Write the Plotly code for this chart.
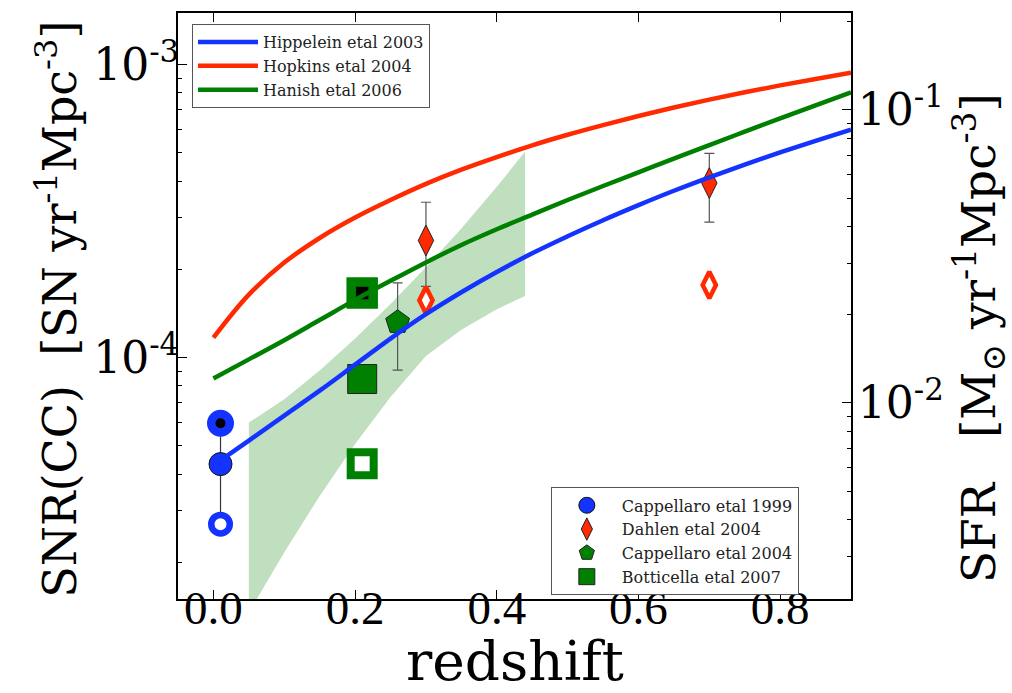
import math
import plotly.graph_objects as go

# ---- model curves: core-collapse SN rate vs redshift ----
z_hippelein = [0.01, 0.05, 0.1, 0.15, 0.2, 0.25, 0.3, 0.35, 0.4, 0.45, 0.5,
               0.55, 0.6, 0.65, 0.7, 0.75, 0.8, 0.85, 0.9]
snr_hippelein = [4.46e-5, 5.21e-5, 6.34e-5, 7.71e-5, 9.46e-5, 1.161e-4, 1.406e-4,
                 1.671e-4, 1.959e-4, 2.270e-4, 2.594e-4, 2.944e-4, 3.315e-4,
                 3.711e-4, 4.125e-4, 4.560e-4, 5.017e-4, 5.495e-4, 5.998e-4]

z_hopkins = [0.0, 0.05, 0.1, 0.15, 0.2, 0.25, 0.3, 0.35, 0.4, 0.45, 0.5,
             0.55, 0.6, 0.65, 0.7, 0.75, 0.8, 0.85, 0.9]
snr_hopkins = [1.169e-4, 1.640e-4, 2.110e-4, 2.560e-4, 3.006e-4, 3.451e-4,
               3.917e-4, 4.380e-4, 4.835e-4, 5.302e-4, 5.761e-4, 6.214e-4, 6.675e-4,
               7.137e-4, 7.593e-4, 8.043e-4, 8.492e-4, 8.933e-4, 9.376e-4]

z_hanish = [0.0, 0.05, 0.1, 0.15, 0.2, 0.25, 0.3, 0.35, 0.4, 0.45, 0.5, 0.55,
            0.6, 0.65, 0.7, 0.75, 0.8, 0.85, 0.9]
snr_hanish = [8.49e-5, 9.86e-5, 1.146e-4, 1.343e-4, 1.574e-4, 1.828e-4, 2.113e-4,
              2.423e-4, 2.742e-4, 3.076e-4, 3.451e-4, 3.851e-4, 4.290e-4, 4.775e-4,
              5.314e-4, 5.902e-4, 6.551e-4, 7.261e-4, 8.043e-4]

# ---- shaded uncertainty band ----
band_z = [0.05, 0.1, 0.15, 0.2, 0.25, 0.3, 0.35, 0.4, 0.44]
band_upper = [6.0e-5, 7.21e-5, 9.03e-5, 1.163e-4, 1.524e-4, 2.032e-4, 2.756e-4,
              3.828e-4, 5.047e-4]
band_lower = [1.349e-5, 2.163e-5, 3.373e-5, 5.07e-5, 7.33e-5, 1.012e-4, 1.245e-4,
              1.462e-4, 1.622e-4]

# ---- measurements ----
capp99_z = [0.01]
capp99_main = [4.33e-5]
capp99_err_up = [1.64e-5]
capp99_err_dn = [1.63e-5]
capp99_high = [5.97e-5]
capp99_low = [2.70e-5]

dahlen_z = [0.3, 0.7]
dahlen_main = [2.51e-4, 3.94e-4]
dahlen_err_up = [0.88e-4, 1.04e-4]
dahlen_err_dn = [0.76e-4, 1.04e-4]
dahlen_alt = [1.57e-4, 1.77e-4]

capp04_z = [0.26]
capp04_main = [1.32e-4]
capp04_err_up = [0.48e-4]
capp04_err_dn = [0.414e-4]

bott_z = [0.21]
bott_high = [1.66e-4]
bott_main = [8.45e-5]
bott_low = [4.34e-5]

# SFR axis = SNR axis scaled by this factor
sfr_per_snr = 1 / 0.007

x_ticks = [0.0, 0.2, 0.4, 0.6, 0.8]
x_ticktext = ["0.0", "0.2", "0.4", "0.6", "0.8"]
snr_ticks = [1e-4, 1e-3]
snr_ticktext = ["10<sup>-4</sup>", "10<sup>-3</sup>"]
sfr_ticks = [1e-2, 1e-1]
sfr_ticktext = ["10<sup>-2</sup>", "10<sup>-1</sup>"]

BLUE = "#1433ff"
RED = "#ff2a00"
GREEN = "#008000"
ERR = "#555555"
SERIF = "DejaVu Serif"
TICK_SERIF = "Liberation Serif"

fig = go.Figure()

# uncertainty band
fig.add_trace(go.Scatter(
    x=band_z + band_z[::-1],
    y=band_upper + band_lower[::-1],
    mode="lines", fill="toself", fillcolor="rgba(0,128,0,0.25)",
    line=dict(width=0, color="rgba(0,0,0,0)"),
    showlegend=False, hoverinfo="skip"))

# Cappellaro 1999
fig.add_trace(go.Scatter(
    x=capp99_z, y=capp99_main, mode="markers", name="Cappellaro etal 1999",
    legend="legend2", legendrank=1,
    marker=dict(symbol="circle", size=23, color=BLUE, line=dict(color="#111", width=1)),
    error_y=dict(type="data", symmetric=False, array=capp99_err_up,
                 arrayminus=capp99_err_dn, color="#333", thickness=1.2, width=0)))
fig.add_trace(go.Scatter(
    x=capp99_z, y=capp99_high, mode="markers", showlegend=False,
    marker=dict(symbol="circle", size=18.5, color="black", line=dict(color=BLUE, width=8.5))))
fig.add_trace(go.Scatter(
    x=capp99_z, y=capp99_low, mode="markers", showlegend=False,
    marker=dict(symbol="circle", size=18.5, color="white", line=dict(color=BLUE, width=6.5))))

# Dahlen 2004
fig.add_trace(go.Scatter(
    x=dahlen_z, y=dahlen_main, mode="markers", name="Dahlen etal 2004",
    legend="legend2", legendrank=2,
    marker=dict(symbol="diamond-tall", size=22, color=RED, line=dict(color="#222", width=1)),
    error_y=dict(type="data", symmetric=False, array=dahlen_err_up,
                 arrayminus=dahlen_err_dn, color=ERR, thickness=1.2, width=5)))
fig.add_trace(go.Scatter(
    x=dahlen_z, y=dahlen_alt, mode="markers", showlegend=False,
    marker=dict(symbol="diamond-tall", size=19, color="white", line=dict(color=RED, width=4.5))))

# Cappellaro 2004
fig.add_trace(go.Scatter(
    x=capp04_z, y=capp04_main, mode="markers", name="Cappellaro etal 2004",
    legend="legend2", legendrank=3,
    marker=dict(symbol="pentagon", size=25, color=GREEN, line=dict(color="#222", width=1)),
    error_y=dict(type="data", symmetric=False, array=capp04_err_up,
                 arrayminus=capp04_err_dn, color=ERR, thickness=1.2, width=5)))

# Botticella 2007
fig.add_trace(go.Scatter(
    x=bott_z, y=bott_main, mode="markers", name="Botticella etal 2007",
    legend="legend2", legendrank=4,
    marker=dict(symbol="square", size=29, color=GREEN, line=dict(color="#222", width=1))))
fig.add_trace(go.Scatter(
    x=bott_z, y=bott_high, mode="markers", showlegend=False,
    marker=dict(symbol="square", size=22, color="black", line=dict(color=GREEN, width=9.5))))
fig.add_trace(go.Scatter(
    x=bott_z, y=bott_low, mode="markers", showlegend=False,
    marker=dict(symbol="square", size=23, color="white", line=dict(color=GREEN, width=8))))

# model curves drawn on top
for zz, vv, col, nm, rk in [
        (z_hippelein, snr_hippelein, BLUE, "Hippelein etal 2003", 1),
        (z_hopkins, snr_hopkins, RED, "Hopkins etal 2004", 2),
        (z_hanish, snr_hanish, GREEN, "Hanish etal 2006", 3)]:
    fig.add_trace(go.Scatter(
        x=zz, y=vv, mode="lines", name=nm, legend="legend", legendrank=rk,
        line=dict(color=col, width=4.5, shape="spline", smoothing=1.0)))

# placeholder trace so the SFR axis is drawn
fig.add_trace(go.Scatter(x=[None], y=[None], yaxis="y2", showlegend=False, hoverinfo="skip"))

snr_lo, snr_hi = 1.5e-5, 1.5e-3
snr_range = [math.log10(snr_lo), math.log10(snr_hi)]
sfr_range = [math.log10(snr_lo * sfr_per_snr), math.log10(snr_hi * sfr_per_snr)]


def minor_vals(lo_exp, hi_exp):
    return [m * 10 ** e for e in range(lo_exp, hi_exp + 1) for m in range(2, 10)]


axis_common = dict(showgrid=False, zeroline=False, showline=True, linecolor="black",
                   linewidth=2, ticks="inside", tickcolor="black", ticklen=9, tickwidth=1.3)

fig.update_layout(
    width=1012, height=693,
    margin=dict(l=178, r=161, t=11, b=94),
    paper_bgcolor="white", plot_bgcolor="white",
    xaxis=dict(range=[-0.05, 0.9], tickvals=x_ticks, ticktext=x_ticktext,
               mirror="ticks", ticklabelstandoff=-33,
               tickfont=dict(family=TICK_SERIF, size=47, color="black"),
               **axis_common),
    yaxis=dict(type="log", range=snr_range, tickvals=snr_ticks, ticktext=snr_ticktext,
               ticklabelstandoff=-12,
               tickfont=dict(family=SERIF, size=44, color="black"),
               minor=dict(ticks="inside", ticklen=4, tickwidth=1.2, tickcolor="black",
                          tickvals=minor_vals(-5, -3), showgrid=False),
               **axis_common),
    yaxis2=dict(type="log", range=sfr_range, overlaying="y", side="right", anchor="x",
                tickvals=sfr_ticks, ticktext=sfr_ticktext, ticklabelstandoff=-4,
                tickfont=dict(family=SERIF, size=44, color="black"),
                minor=dict(ticks="inside", ticklen=4, tickwidth=1.2, tickcolor="black",
                           tickvals=minor_vals(-3, -1), showgrid=False),
                **axis_common),
    legend=dict(x=0.0208, y=0.981, xanchor="left", yanchor="top",
                bgcolor="white", bordercolor="#555", borderwidth=1,
                font=dict(family=SERIF, size=16, color="#222"),
                tracegroupgap=0, itemwidth=60),
    legend2=dict(x=0.554, y=0.1905, xanchor="left", yanchor="top",
                 bgcolor="white", bordercolor="#555", borderwidth=1,
                 font=dict(family=SERIF, size=16, color="#222"),
                 tracegroupgap=0, itemwidth=60),
    annotations=[
        dict(text="redshift", xref="paper", yref="paper", x=0.5, y=-0.106,
             xanchor="center", yanchor="middle", showarrow=False, borderpad=0,
             font=dict(family=SERIF, size=55, color="black")),
        dict(text="SNR(CC)\u00a0\u00a0[SN yr<sup>-1</sup>Mpc<sup>-3</sup>]",
             xref="paper", yref="paper", x=-0.18, y=0.495, textangle=-90,
             xanchor="center", yanchor="middle", showarrow=False,
             font=dict(family=SERIF, size=46, color="black")),
        dict(text="SFR\u00a0\u00a0\u00a0[M<sub>\u2299</sub> yr<sup>-1</sup>Mpc<sup>-3</sup>]",
             xref="paper", yref="paper", x=1.19, y=0.445, textangle=-90,
             xanchor="center", yanchor="middle", showarrow=False,
             font=dict(family=SERIF, size=47, color="black")),
    ],
)

fig.write_html("out.html")
